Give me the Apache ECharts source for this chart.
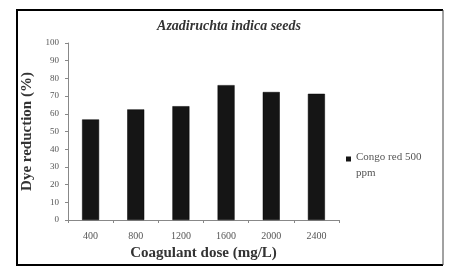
<!DOCTYPE html>
<html><head><meta charset="utf-8">
<script src="https://cdn.jsdelivr.net/npm/echarts@6/dist/echarts.min.js"></script>
<style>html,body{margin:0;padding:0;background:#fff}#c{width:472px;height:270px}</style>
</head><body><div id="c"></div>
<script>
const categories = ['400','800','1200','1600','2000','2400'];
const values = [56.8, 62.5, 64.3, 76.2, 72.3, 71.3];
const seriesName = 'Congo red 500\nppm';
const titleText = 'Azadiruchta indica seeds';
const xName = 'Coagulant dose (mg/L)';
const yName = 'Dye reduction (%)';

const chart = echarts.init(document.getElementById('c'));
const serif = 'Liberation Serif';
chart.setOption({
  animation: false,
  backgroundColor: '#fff',
  title: {text: titleText, left: 224, top: 14, textAlign: 'center',
    textStyle: {fontFamily: serif, fontStyle: 'italic', fontWeight: 'bold', fontSize: 14, color: '#333'}},
  graphic: [
    {type: 'polyline', shape: {points: [[443, 10], [17, 10], [17, 265], [443, 265]]}, style: {fill: 'none', stroke: '#000', lineWidth: 2}, silent: true},
    {type: 'line', shape: {x1: 443, y1: 10, x2: 443, y2: 265}, style: {stroke: '#444', lineWidth: 1}, silent: true}
  ],
  legend: {left: 346, top: 149, orient: 'vertical', itemWidth: 5, itemHeight: 17, itemGap: 0, padding: 0,
    icon: 'path://M0,0H5V5H0Z M0,17L0,17',
    itemStyle: {borderWidth: 0},
    textStyle: {fontFamily: serif, fontSize: 11, color: '#555', lineHeight: 16},
    data: [seriesName]},
  grid: {left: 68, right: 133, top: 43, bottom: 50},
  xAxis: {type: 'category', data: categories,
    name: xName, nameLocation: 'middle', nameGap: 23,
    nameTextStyle: {fontFamily: serif, fontWeight: 'bold', fontSize: 15, color: '#333'},
    axisLine: {lineStyle: {color: '#888', width: 1}},
    axisTick: {show: true, length: 3, lineStyle: {color: '#888'}},
    axisLabel: {fontFamily: serif, fontSize: 10, color: '#555', margin: 11}},
  yAxis: {type: 'value', min: 0, max: 100, interval: 10,
    name: yName, nameLocation: 'middle', nameGap: 31,
    nameTextStyle: {fontFamily: serif, fontWeight: 'bold', fontSize: 15, color: '#333'},
    splitLine: {show: false},
    axisLine: {show: true, lineStyle: {color: '#888', width: 1}},
    axisTick: {show: true, length: 3, lineStyle: {color: '#888'}},
    axisLabel: {fontFamily: serif, fontSize: 9, color: '#555', margin: 9}},
  series: [{name: seriesName, type: 'bar', data: values, barWidth: 17,
    itemStyle: {color: '#151515', borderColor: '#000', borderWidth: 0.5}}]
});
</script></body></html>
